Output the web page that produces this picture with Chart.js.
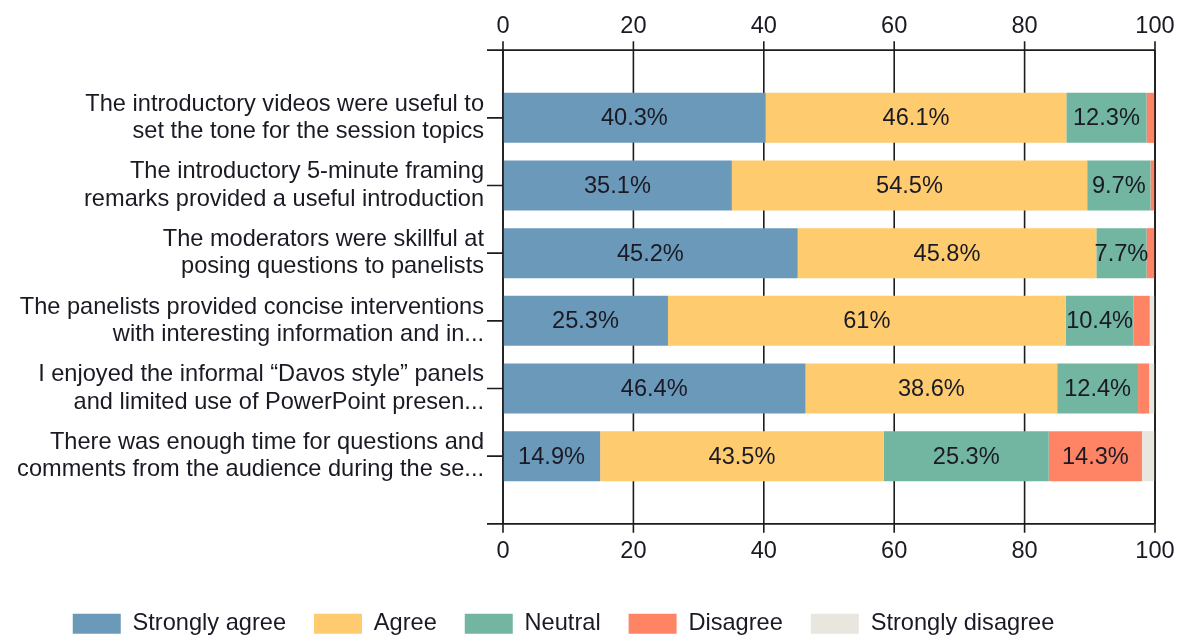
<!DOCTYPE html>
<html>
<head>
<meta charset="utf-8">
<script src="https://cdn.jsdelivr.net/npm/chart.js@4.4.0/dist/chart.umd.min.js"></script>
<style>
html, body { margin: 0; padding: 0; background: #fff; }
canvas { display: block; }
</style>
</head>
<body>
<canvas id="chart-area" width="1182" height="639"></canvas>
<script>
const questions = [
    ['The introductory videos were useful to', 'set the tone for the session topics'],
    ['The introductory 5-minute framing', 'remarks provided a useful introduction'],
    ['The moderators were skillful at', 'posing questions to panelists'],
    ['The panelists provided concise interventions', 'with interesting information and in...'],
    ['I enjoyed the informal \u201cDavos style\u201d panels', 'and limited use of PowerPoint presen...'],
    ['There was enough time for questions and', 'comments from the audience during the se...']
];
const series_names = ['Strongly agree', 'Agree', 'Neutral', 'Disagree', 'Strongly disagree'];
const strongly_agree = [40.3, 35.1, 45.2, 25.3, 46.4, 14.9];
const agree = [46.1, 54.5, 45.8, 61, 38.6, 43.5];
const neutral = [12.3, 9.7, 7.7, 10.4, 12.4, 25.3];
const disagree = [1.3, 0.7, 1.3, 2.5, 1.7, 14.3];
const strongly_disagree = [0, 0, 0, 0.8, 0.9, 2.0];
const x_ticks = [0, 20, 40, 60, 80, 100];
const colors = ['#6b99ba', '#fecb6f', '#72b5a1', '#ff8466', '#e8e6df'];

const font_family = "'Liberation Sans', Arial, sans-serif";
const font_size = 23.6;
const line_color = '#1c1c1c';

// vertical grid, both horizontal axis lines and the little category ticks
const axisLines = {
    id: 'axisLines',
    beforeDatasetsDraw(chart) {
        const {ctx, chartArea, scales} = chart;
        const slot = (chartArea.bottom - chartArea.top) / questions.length;
        const top = chartArea.top - slot / 2;
        const bottom = chartArea.bottom + slot / 2;
        ctx.save();
        ctx.strokeStyle = line_color;
        ctx.lineWidth = 1.6;
        ctx.beginPath();
        for (const t of x_ticks) {
            const x = scales.x.getPixelForValue(t);
            ctx.moveTo(x, top - 9);
            ctx.lineTo(x, bottom + 9);
        }
        ctx.moveTo(chartArea.left - 16, top);
        ctx.lineTo(chartArea.right, top);
        ctx.moveTo(chartArea.left - 16, bottom);
        ctx.lineTo(chartArea.right, bottom);
        questions.forEach((q, i) => {
            const y = scales.y.getPixelForValue(i);
            ctx.moveTo(chartArea.left - 16, y);
            ctx.lineTo(chartArea.left, y);
        });
        ctx.stroke();
        ctx.restore();
    },
    afterDatasetsDraw(chart) {
        const {ctx, chartArea, scales} = chart;
        const slot = (chartArea.bottom - chartArea.top) / questions.length;
        ctx.save();
        ctx.strokeStyle = line_color;
        ctx.lineWidth = 1.6;
        ctx.beginPath();
        for (const t of [x_ticks[0], x_ticks[x_ticks.length - 1]]) {
            const x = scales.x.getPixelForValue(t);
            ctx.moveTo(x, chartArea.top - slot / 2);
            ctx.lineTo(x, chartArea.bottom + slot / 2);
        }
        ctx.stroke();
        // values inside the bars
        ctx.font = font_size + 'px ' + font_family;
        ctx.fillStyle = '#1a1a24';
        ctx.textAlign = 'center';
        ctx.textBaseline = 'middle';
        chart.data.datasets.forEach((ds, di) => {
            const meta = chart.getDatasetMeta(di);
            meta.data.forEach((bar, i) => {
                const v = ds.data[i];
                if (v < 5) return;
                ctx.fillText(v + '%', (bar.x + bar.base) / 2, bar.y + 1);
            });
        });
        ctx.restore();
    },
    afterLayout(chart) {
        const lg = chart.legend;
        const dy = 584 - lg.top;
        lg.top += dy;
        lg.bottom += dy;
        lg.left -= 14;
        lg.right -= 14;
    }
};

const all_values = [strongly_agree, agree, neutral, disagree, strongly_disagree];

const noSidePadding = (scale) => {
    scale.paddingLeft = 0;
    scale.paddingRight = 0;
};

const config = {
    type: 'bar',
    data: {
        labels: questions,
        datasets: series_names.map((name, i) => ({
            label: name,
            data: all_values[i],
            backgroundColor: colors[i],
            borderWidth: 0,
            barPercentage: 0.74,
            categoryPercentage: 1
        }))
    },
    options: {
        indexAxis: 'y',
        responsive: false,
        animation: false,
        layout: { padding: { left: 0, right: 27, top: 0, bottom: 0 } },
        scales: {
            x: {
                position: 'top',
                stacked: true,
                min: 0,
                max: 100,
                grid: { display: false, drawTicks: false },
                border: { display: false },
                ticks: { stepSize: 20, padding: 43, color: '#1a1a24', font: { size: font_size } },
                afterFit(scale) { scale.height = 84; noSidePadding(scale); }
            },
            x2: {
                type: 'linear',
                position: 'bottom',
                min: 0,
                max: 100,
                grid: { display: false, drawTicks: false },
                border: { display: false },
                ticks: { stepSize: 20, padding: 47, color: '#1a1a24', font: { size: font_size } },
                afterFit(scale) {
                    scale.height = 639 - 490 - scale.chart.legend.height;
                    noSidePadding(scale);
                }
            },
            y: {
                stacked: true,
                grid: { display: false, drawTicks: false },
                border: { display: false },
                ticks: { padding: 19, color: '#1a1a24', font: { size: font_size, lineHeight: 1.15 } },
                afterFit(scale) { scale.width = 503; }
            }
        },
        plugins: {
            legend: {
                position: 'bottom',
                labels: {
                    boxWidth: 48,
                    boxHeight: 20,
                    padding: 28,
                    color: '#1a1a24',
                    font: { size: font_size }
                }
            },
            tooltip: { enabled: false }
        }
    },
    plugins: [axisLines]
};

Chart.defaults.font.family = font_family;

window.onload = function () {
    const ctx = document.querySelector('#chart-area').getContext('2d');
    const myChart = new Chart(ctx, config);
};
</script>
</body>
</html>
